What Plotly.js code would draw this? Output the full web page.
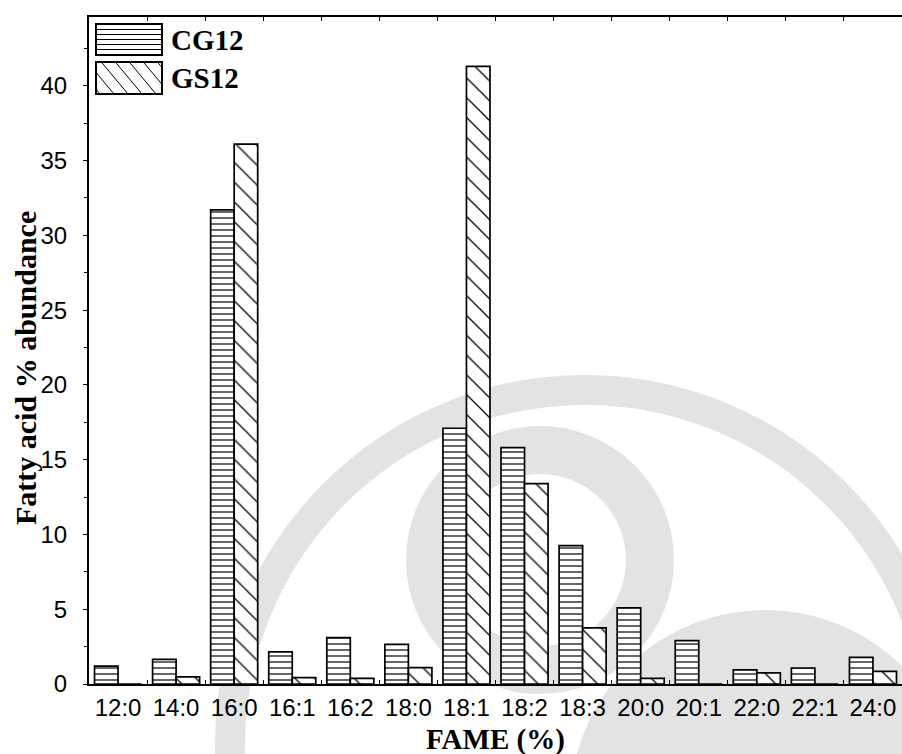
<!DOCTYPE html>
<html><head><meta charset="utf-8">
<script src="https://cdn.plot.ly/plotly-3.0.1.min.js"></script>
<style>html,body{margin:0;padding:0;background:#fff}</style>
</head><body>
<div id="chart" style="width:902px;height:754px"></div>
<script>
const categories = ['12:0','14:0','16:0','16:1','16:2','18:0','18:1','18:2','18:3','20:0','20:1','22:0','22:1','24:0'];
const seriesNames = ['CG12','GS12'];
const cg12 = [1.2, 1.65, 31.7, 2.15, 3.1, 2.65, 17.1, 15.8, 9.25, 5.1, 2.9, 0.95, 1.07, 1.78];
const gs12 = [0, 0.47, 36.1, 0.42, 0.38, 1.1, 41.3, 13.4, 3.75, 0.38, 0, 0.74, 0, 0.85];
const yTickVals = [0, 5, 10, 15, 20, 25, 30, 35, 40];
const xTitle = 'FAME (%)';
const yTitle = 'Fatty acid % abundance';

const W = 902, H = 754, M = {l: 89, r: 0, t: 17, b: 70};
const PW = W - M.l - M.r, PH = H - M.t - M.b;
const px = x => (x - M.l) / PW;
const py = y => (H - M.b - y) / PH;
const SERIF = '"Liberation Serif", "Times New Roman", serif';
const SANS = '"Liberation Sans", Arial, sans-serif';

const traces = [
  {type: 'bar', name: seriesNames[0], x: categories, y: cg12,
   marker: {color: '#ffffff', line: {color: '#000', width: 1.7},
            pattern: {shape: '-', size: 6, solidity: 0.2, fgcolor: '#000', bgcolor: '#fff', fillmode: 'replace'}}},
  {type: 'bar', name: seriesNames[1], x: categories, y: gs12,
   marker: {color: '#ffffff', line: {color: '#000', width: 1.7},
            pattern: {shape: '\\', size: 14, solidity: 0.09, fgcolor: '#000', bgcolor: '#fff', fillmode: 'replace'}}}
];

const shapes = [];
// faint background watermark (emblem approximation)
const wm = '#e3e3e3';
function circ(cx, cy, r, opts) {
  return Object.assign({type: 'circle', xref: 'paper', yref: 'paper', layer: 'below',
    x0: px(cx - r), x1: px(cx + r), y0: py(cy + r), y1: py(cy - r)}, opts);
}
shapes.push(circ(585, 745, 355, {line: {color: wm, width: 30}}));
shapes.push(circ(540, 560, 110, {line: {color: wm, width: 48}}));
shapes.push(circ(765, 805, 195, {line: {width: 0}, fillcolor: wm}));

// legend boxes with hatch
function rectShape(x0, y0, x1, y1) {
  return {type: 'rect', xref: 'paper', yref: 'paper', layer: 'above',
    x0: px(x0), x1: px(x1), y0: py(y1), y1: py(y0), line: {color: '#000', width: 2}, fillcolor: '#fff'};
}
function lineShape(xa, ya, xb, yb, w) {
  return {type: 'line', xref: 'paper', yref: 'paper', layer: 'above',
    x0: px(xa), y0: py(ya), x1: px(xb), y1: py(yb), line: {color: '#000', width: w}};
}
const box1 = [96, 24, 162, 55], box2 = [96, 62, 162, 94];
shapes.push(rectShape(...box1));
for (let y = box1[1] + 5.5; y < box1[3] - 2; y += 5) shapes.push(lineShape(box1[0], y, box1[2], y, 1));
shapes.push(rectShape(...box2));
{
  const [x0, y0, x1, y1] = box2, s = 1.2, step = 14;
  for (let k = x0 - (y1 - y0) / s + 4; k < x1; k += step) {
    const ya = Math.max(y0, y0 + s * (x0 - k)), yb = Math.min(y1, y0 + s * (x1 - k));
    if (yb <= ya) continue;
    shapes.push(lineShape(k + (ya - y0) / s, ya, k + (yb - y0) / s, yb, 1));
  }
}

const annotations = [
  {xref: 'paper', yref: 'paper', x: px(169), y: py(40), xanchor: 'left', yanchor: 'middle', showarrow: false,
   text: '<b>' + seriesNames[0] + '</b>', font: {family: SERIF, size: 29, color: '#000'}},
  {xref: 'paper', yref: 'paper', x: px(169), y: py(78), xanchor: 'left', yanchor: 'middle', showarrow: false,
   text: '<b>' + seriesNames[1] + '</b>', font: {family: SERIF, size: 29, color: '#000'}},
  {xref: 'paper', yref: 'paper', x: px(495), y: py(739), xanchor: 'center', yanchor: 'middle', showarrow: false,
   text: '<b>' + xTitle + '</b>', font: {family: SERIF, size: 29, color: '#000'}},
  {xref: 'paper', yref: 'paper', x: px(25), y: py(368), xanchor: 'center', yanchor: 'middle', showarrow: false,
   textangle: -90, text: '<b>' + yTitle + '</b>', font: {family: SERIF, size: 30, color: '#000'}}
];

const layout = {
  width: W, height: H, margin: M,
  paper_bgcolor: '#ffffff', plot_bgcolor: 'rgba(0,0,0,0)',
  showlegend: false, barmode: 'group', bargap: 0.19, bargroupgap: 0,
  xaxis: {type: 'category', range: [-0.5, 13.5], showline: true, linecolor: '#000', linewidth: 2,
          mirror: 'ticks', ticks: 'inside', tickson: 'boundaries', ticklen: 4, tickcolor: '#000',
          showgrid: false, zeroline: false, ticklabelstandoff: 1,
          tickfont: {family: SANS, size: 24, color: '#000'}},
  yaxis: {range: [0, 44.6], tickvals: yTickVals, showline: true, linecolor: '#000', linewidth: 2,
          ticks: 'outside', ticklen: 4, tickcolor: '#000', showgrid: false, zeroline: false,
          minor: {dtick: 2.5, ticks: 'outside', ticklen: 3, tickcolor: '#000', showgrid: false},
          ticklabelstandoff: 11,
          tickfont: {family: SANS, size: 24, color: '#000'}},
  shapes: shapes, annotations: annotations
};

Plotly.newPlot('chart', traces, layout, {staticPlot: true, displayModeBar: false});
</script>
</body></html>
